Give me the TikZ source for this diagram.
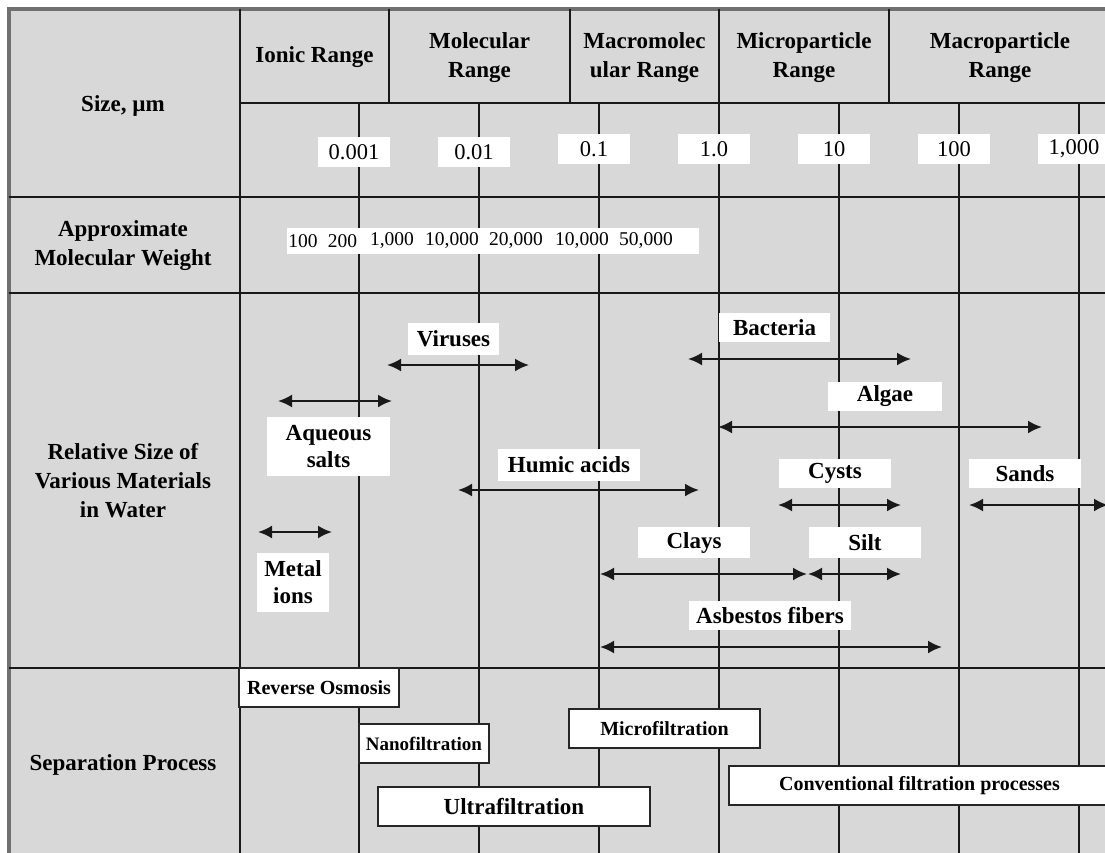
\documentclass[tikz,border=0pt]{standalone}
\usepackage{fontspec}
\setmainfont{Liberation Serif}
\usetikzlibrary{arrows.meta}
\definecolor{cellgray}{RGB}{216,216,216}
\definecolor{framegray}{RGB}{112,112,112}
\begin{document}
\begin{tikzpicture}[x=1pt,y=-1pt,
  grid/.style={line width=2.2pt, black!90},
  hdr/.style={font=\fontsize{23}{29}\selectfont\bfseries, align=center, inner sep=0pt},
  val/.style={fill=white, minimum width=72pt, minimum height=30pt, inner sep=0pt, font=\fontsize{22.5}{27}\selectfont},
  mwnum/.style={inner sep=0pt, font=\fontsize{19.5}{24}\selectfont},
  mat/.style={fill=white, inner sep=0pt, align=center, font=\fontsize{23}{27}\selectfont\bfseries},
  proc/.style={fill=white, draw=black!85, line width=1.8pt, inner sep=0pt, minimum height=39pt, font=\fontsize{20}{24}\selectfont\bfseries},
  dbl/.style={line width=2.2pt, black!90, {Latex[length=14pt,width=13pt]}-{Latex[length=14pt,width=13pt]}}
]
\useasboundingbox (0,0) rectangle (1105,852);
\clip (0,0) rectangle (1105,852);
% background and frame
\fill[cellgray] (8.5,8.5) rectangle (1115,860);
\draw[framegray, line width=4pt] (8.5,860) -- (8.5,8.5) -- (1115,8.5);

% grid lines
\draw[grid] (240,8.5) -- (240,860);
\foreach \x in {389,570,719,889} \draw[grid] (\x,8.5) -- (\x,103);
\draw[grid] (240,103) -- (1115,103);
\foreach \y in {197,293,668} \draw[grid] (8.5,\y) -- (1115,\y);
\foreach \x in {359,479,599,719,839,959,1079} \draw[grid] (\x,103) -- (\x,860);

% header
\node[hdr] (hIonic) at (314.5,57.5) {Ionic Range};
\node[hdr] (hMol) at (479.5,57.5) {Molecular\\Range};
\node[hdr] (hMacroMol) at (644.5,57.5) {Macromolec\\ular Range};
\node[hdr] (hMicroP) at (804,57.5) {Microparticle\\Range};
\node[hdr] (hMacroP) at (1000,57.5) {Macroparticle\\Range};

% row labels
\node[hdr] (lSize) at (123,106) {Size, µm};
\node[hdr] (lMW) at (123,245.5) {Approximate\\Molecular Weight};
\node[hdr] (lRel) at (123,481) {Relative Size of\\Various Materials\\in Water};
\node[hdr] (lSep) at (123,765) {Separation Process};

% size values
\node[val] (v1) at (354,152) {0.001};
\node[val] (v2) at (474,152) {0.01};
\node[val] (v3) at (594,149) {0.1};
\node[val] (v4) at (714,149) {1.0};
\node[val] (v5) at (834,149) {10};
\node[val] (v6) at (954,149) {100};
\node[val] (v7) at (1074,149) {1,000};

% molecular weight
\node[fill=white, minimum width=412pt, minimum height=26pt, inner sep=0pt] (mwbox) at (493,241) {};
\node[mwnum] (mw1) at (303,241) {100};
\node[mwnum] (mw2) at (342.5,241) {200};
\node[mwnum] (mw3) at (392,241) {1,000};
\node[mwnum] (mw4) at (452,241) {10,000};
\node[mwnum] (mw5) at (516,241) {20,000};
\node[mwnum] (mw6) at (582,241) {10,000};
\node[mwnum] (mw7) at (646,241) {50,000};

% arrow end points
\coordinate (virL) at (387,365);  \coordinate (virR) at (529,365);
\coordinate (aqL) at (278,401);   \coordinate (aqR) at (392,401);
\coordinate (metL) at (258,532);  \coordinate (metR) at (332,532);
\coordinate (humL) at (458,490);  \coordinate (humR) at (699,490);
\coordinate (bacL) at (688,359);  \coordinate (bacR) at (911,359);
\coordinate (algL) at (718,427);  \coordinate (algR) at (1042,427);
\coordinate (cysL) at (778,505);  \coordinate (cysR) at (901,505);
\coordinate (sanL) at (969,505);  \coordinate (sanR) at (1108,505);
\coordinate (claL) at (600,574);  \coordinate (claR) at (807,574);
\coordinate (silL) at (808,574);  \coordinate (silR) at (901,574);
\coordinate (asbL) at (600,647);  \coordinate (asbR) at (942,647);

\draw[dbl] (virL) -- (virR);
\draw[dbl] (aqL) -- (aqR);
\draw[dbl] (metL) -- (metR);
\draw[dbl] (humL) -- (humR);
\draw[dbl] (bacL) -- (bacR);
\draw[dbl] (algL) -- (algR);
\draw[dbl] (cysL) -- (cysR);
\draw[dbl] (sanL) -- (sanR);
\draw[dbl] (claL) -- (claR);
\draw[dbl] (silL) -- (silR);
\draw[dbl] (asbL) -- (asbR);

% material labels
\node[mat, minimum width=91pt, minimum height=32pt] (viruses) at (453.5,339) {Viruses};
\node[mat, minimum width=123pt, minimum height=59pt] (aqueous) at (328.5,446.5) {Aqueous\\salts};
\node[mat, minimum width=72pt, minimum height=59pt] (metal) at (293,582.5) {Metal\\ions};
\node[mat, minimum width=142pt, minimum height=32pt] (humic) at (569,465) {Humic acids};
\node[mat, minimum width=111pt, minimum height=29pt] (bacteria) at (774.5,327.5) {Bacteria};
\node[mat, minimum width=114pt, minimum height=29pt] (algae) at (885,396.5) {Algae};
\node[mat, minimum width=112pt, minimum height=29pt] (cysts) at (835,473.5) {Cysts};
\node[mat, minimum width=112pt, minimum height=29pt] (sands) at (1025,473.5) {Sands};
\node[mat, minimum width=112pt, minimum height=31pt] (clays) at (694,542.5) {Clays};
\node[mat, minimum width=112pt, minimum height=31pt] (silt) at (865,542.5) {Silt};
\node[mat, minimum width=162pt, minimum height=29pt] (asbestos) at (770,615.5) {Asbestos fibers};

% separation processes
\node[proc, minimum width=160pt] (ro) at (319,687.5) {Reverse Osmosis};
\node[proc, minimum width=130pt, font=\fontsize{19}{23}\selectfont\bfseries] (nf) at (424,743.5) {Nanofiltration};
\node[proc, minimum width=272pt, font=\fontsize{23}{27}\selectfont\bfseries] (uf) at (514,806.5) {Ultrafiltration};
\node[proc, minimum width=191pt] (mf) at (664.5,728.5) {Microfiltration};
\node[proc, minimum width=381pt] (conv) at (919.5,785.5) {Conventional filtration processes};
\end{tikzpicture}
\end{document}
